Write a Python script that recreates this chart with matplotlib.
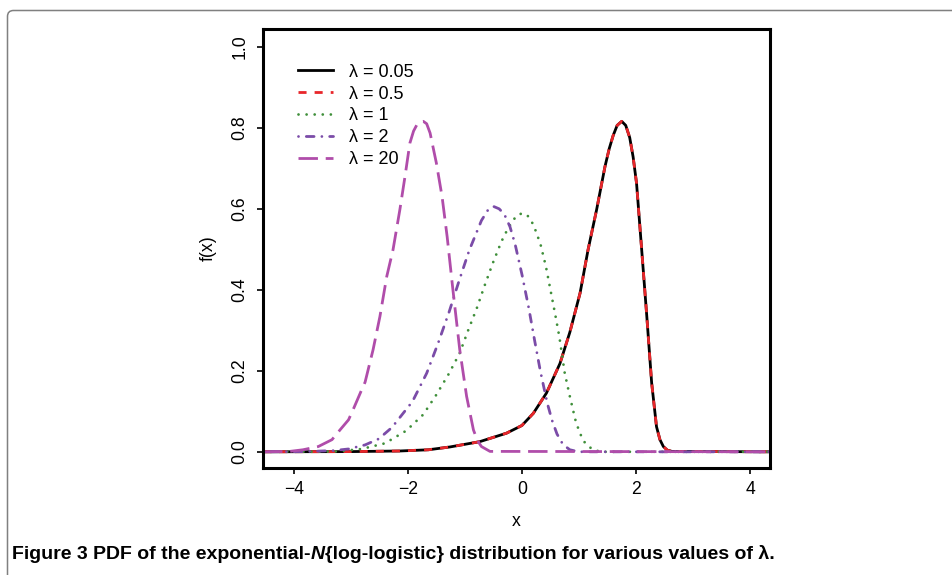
import numpy as np
import matplotlib.pyplot as plt
from matplotlib.path import Path
from matplotlib.patches import PathPatch
from matplotlib.transforms import IdentityTransform

# values (x, f(x))
x_l005 = [-4.54, -3.0, -2.14, -1.64, -1.26, -0.74, -0.27, 0.0, 0.2, 0.43, 0.667, 0.84,
          1.02, 1.16, 1.31, 1.456, 1.53, 1.60, 1.67, 1.75, 1.82, 1.89, 1.95, 2.01, 2.10,
          2.19, 2.275, 2.36, 2.42, 2.48, 2.55, 2.63, 4.35]
y_l005 = [0.0, 0.0005, 0.002, 0.005, 0.012, 0.025, 0.046, 0.065, 0.095, 0.145, 0.218, 0.295,
          0.392, 0.499, 0.598, 0.704, 0.748, 0.781, 0.806, 0.816, 0.806, 0.776, 0.728, 0.663,
          0.499, 0.334, 0.17, 0.062, 0.030, 0.013, 0.004, 0.001, 0.0]
x_l05 = x_l005
y_l05 = y_l005

x_l1 = [-4.54, -3.6, -3.22, -2.81, -2.40, -2.03, -1.73, -1.50, -1.28, -1.09, -0.94, -0.79,
        -0.65, -0.51, -0.36, -0.25, -0.15, -0.06, 0.02, 0.10, 0.17, 0.25, 0.33, 0.42, 0.50,
        0.58, 0.655, 0.75, 0.84, 0.935, 1.01, 1.09, 1.24, 1.4, 4.35]
y_l1 = [0.0, 0.0003, 0.001, 0.007, 0.021, 0.052, 0.092, 0.141, 0.193, 0.244, 0.301, 0.355,
        0.412, 0.466, 0.519, 0.550, 0.573, 0.586, 0.589, 0.583, 0.569, 0.543, 0.51, 0.458,
        0.40, 0.342, 0.285, 0.195, 0.137, 0.08, 0.048, 0.025, 0.005, 0.0, 0.0]

x_l2 = [-4.54, -3.8, -3.30, -3.04, -2.75, -2.51, -2.28, -1.92, -1.67, -1.47, -1.275, -1.10,
        -0.925, -0.71, -0.6, -0.50, -0.4, -0.31, -0.21, -0.12, 0.005, 0.12, 0.22, 0.325,
        0.445, 0.53, 0.615, 0.72, 0.84, 1.0, 4.35]
y_l2 = [0.0, 0.0005, 0.003, 0.007, 0.017, 0.032, 0.060, 0.124, 0.194, 0.268, 0.346, 0.423,
        0.497, 0.571, 0.596, 0.606, 0.60, 0.587, 0.556, 0.513, 0.435, 0.355, 0.277, 0.198,
        0.12, 0.077, 0.044, 0.018, 0.005, 0.0, 0.0]

x_l20 = [-4.54, -4.07, -3.84, -3.57, -3.33, -3.19, -3.04, -2.96, -2.81, -2.75, -2.61, -2.49,
         -2.37, -2.26, -2.14, -2.05, -1.965, -1.90, -1.84, -1.78, -1.73, -1.67, -1.61, -1.50,
         -1.40, -1.31, -1.21, -1.09, -0.97, -0.85, -0.78, -0.71, -0.56, 4.35]
y_l20 = [0.0, 0.001, 0.005, 0.013, 0.030, 0.054, 0.079, 0.104, 0.153, 0.172, 0.252, 0.334,
         0.433, 0.499, 0.598, 0.68, 0.762, 0.792, 0.808, 0.815, 0.816, 0.81, 0.787, 0.713,
         0.63, 0.53, 0.40, 0.252, 0.137, 0.054, 0.028, 0.013, 0.001, 0.0]

labels = ["λ = 0.05", "λ = 0.5", "λ = 1", "λ = 2", "λ = 20"]
xticks = [-4, -2, 0, 2, 4]
yticks = [0.0, 0.2, 0.4, 0.6, 0.8, 1.0]

plt.rcParams['font.family'] = ['Liberation Sans', 'DejaVu Sans']

fig = plt.figure(figsize=(9.53, 5.75), dpi=100)
ax = fig.add_axes([263 / 953, 107 / 575, 507 / 953, 439 / 575])

lw = 2.0
ax.plot(x_l005, y_l005, color='black', lw=lw, label=labels[0])
ax.plot(x_l05, y_l05, color='#E8262A', lw=lw, linestyle=(0, (2.9, 2.9)), label=labels[1])
ax.plot(x_l1, y_l1, color='#3F8F3A', lw=lw, linestyle=(0, (0.01, 2.9)),
        dash_capstyle='round', label=labels[2])
ax.plot(x_l2, y_l2, color='#7B4CA8', lw=lw, linestyle=(0, (0.01, 2.8, 2.8, 2.8)),
        dash_capstyle='round', label=labels[3])
ax.plot(x_l20, y_l20, color='#B04DAA', lw=lw, linestyle=(0, (7, 2.8)), label=labels[4])

ax.set_xlim(-4.54, 4.35)
ax.set_ylim(-0.04, 1.044)
ax.set_xticks(xticks)
ax.set_yticks(yticks)
ax.set_xticklabels(["\u22124", "\u22122", "0", "2", "4"])
ax.set_yticklabels(["0.0", "0.2", "0.4", "0.6", "0.8", "1.0"], rotation=90, va='center')
ax.tick_params(direction='out', length=4.5, width=1.2, labelsize=12.7, pad=5)
ax.tick_params(axis='y', pad=6)
for s in ax.spines.values():
    s.set_linewidth(2.2)

ax.set_xlabel("x", fontsize=12.7)
ax.set_ylabel("f(x)", fontsize=12.7)
ax.xaxis.set_label_coords(0.5, -0.102)
ax.yaxis.set_label_coords(-0.091, 0.5)

ax.legend(loc='upper left', bbox_to_anchor=(0.069, 0.921), frameon=False, fontsize=13,
          borderpad=0, borderaxespad=0, handlelength=1.95, handletextpad=0.85,
          labelspacing=0.27)

# rounded frame around the figure panel
W, H = 953, 575
r = 6
top = H - 10.5
left = 7.5
verts = [(left, -2), (left, top - r), (left, top), (left + r, top), (W + 2, top)]
codes = [Path.MOVETO, Path.LINETO, Path.CURVE3, Path.CURVE3, Path.LINETO]
fig.add_artist(PathPatch(Path(verts, codes), transform=IdentityTransform(),
                         fill=False, edgecolor='#808080', lw=1.1))

# caption, pieced so that N can be italic
cap_font = ['Liberation Sans', 'DejaVu Sans']
pieces = [("Figure 3 PDF of the exponential-", 'normal'),
          ("N", 'italic'),
          ("{log-logistic} distribution for various values of λ.", 'normal')]
renderer = fig.canvas.get_renderer()
xpos = 12 / W
for txt, style in pieces:
    t = fig.text(xpos, 16 / H, txt, family=cap_font, fontsize=14, fontweight='bold',
                 style=style, ha='left', va='baseline')
    bb = t.get_window_extent(renderer)
    xpos = bb.x1 / W

fig.savefig('out.png', dpi=100)
